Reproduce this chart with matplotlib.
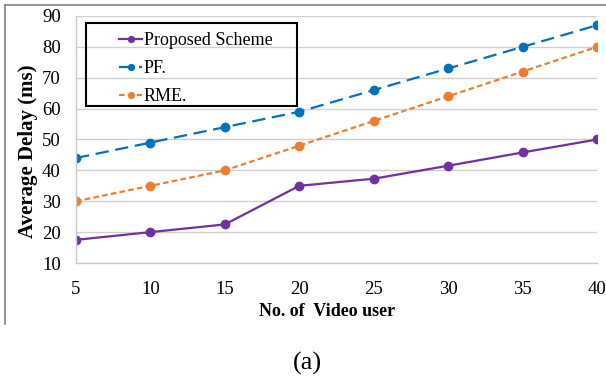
import matplotlib
matplotlib.use("Agg")
import matplotlib.pyplot as plt
from matplotlib.lines import Line2D
from matplotlib.patches import Rectangle

plt.rcParams['font.family'] = ['Liberation Serif', 'DejaVu Serif']

users = [5, 10, 15, 20, 25, 30, 35, 40]
proposed = [17.5, 20, 22.5, 35, 37.3, 41.5, 45.8, 50]
pf = [44, 49, 54, 59, 66, 73, 80, 87]
rme = [30, 35, 40, 48, 56, 64, 72, 80]
yticks = [10, 20, 30, 40, 50, 60, 70, 80, 90]

W, H = 606, 382
fig = plt.figure(figsize=(W / 100, H / 100), dpi=100)
ax = fig.add_axes([76 / W, 1 - 263 / H, 521 / W, 247 / H])

ax.plot(users, proposed, '-', color='#7030A0', lw=1.6, marker='o', ms=6,
        label='Proposed Scheme')
ax.plot(users, pf, color='#0070C0', lw=1.6, ls=(0, (6, 3)), marker='o', ms=6,
        label='PF.')
ax.plot(users, rme, color='#ED7D31', lw=1.6, ls=(0, (2.5, 1.5)), marker='o', ms=6,
        label='RME.')

ax.set_xlim(5, 40)
ax.set_ylim(10, 90)
ax.set_xticks(users)
ax.set_yticks(yticks)
ax.tick_params(length=0, labelsize=13.5)
ax.tick_params(axis='y', pad=11)
ax.tick_params(axis='x', pad=13)
ax.grid(axis='y', color='#d0d0d0', lw=1)
ax.set_axisbelow(True)
for s in ['top', 'right']:
    ax.spines[s].set_visible(False)
for s in ['left', 'bottom']:
    ax.spines[s].set_color('#c8c8c8')
    ax.spines[s].set_linewidth(1)

ax.set_ylabel('Average Delay (ms)', fontsize=15, fontweight='bold')
ax.yaxis.set_label_coords(-0.073, 0.451)
fig.text(327 / W, 1 - 312 / H, 'No. of  Video user', ha='center', va='center',
         fontsize=13, fontweight='bold')
fig.text(307 / W, 1 - 363 / H, '(a)', ha='center', va='center', fontsize=19)

# legend entries without their own frame; box drawn separately
leg = ax.legend(loc='upper left', bbox_to_anchor=(119 / W, 1 - 32 / H),
                bbox_transform=fig.transFigure, fontsize=13, frameon=False,
                handlelength=1.3, handletextpad=0.08, borderpad=0,
                borderaxespad=0, labelspacing=0.62, markerscale=0.7)
fig.add_artist(Rectangle((86 / W, 1 - 106 / H), 211 / W, 83 / H,
                         transform=fig.transFigure, fill=False,
                         edgecolor='black', lw=1.5))

# outer chart border (top and left edges)
fig.add_artist(Line2D([5 / W, 5 / W], [1 - 5 / H, 1 - 324 / H], color='#808080', lw=1.2))
fig.add_artist(Line2D([5 / W, 1], [1 - 5 / H, 1 - 5 / H], color='#808080', lw=1.2))

fig.savefig('out.png', dpi=100)
